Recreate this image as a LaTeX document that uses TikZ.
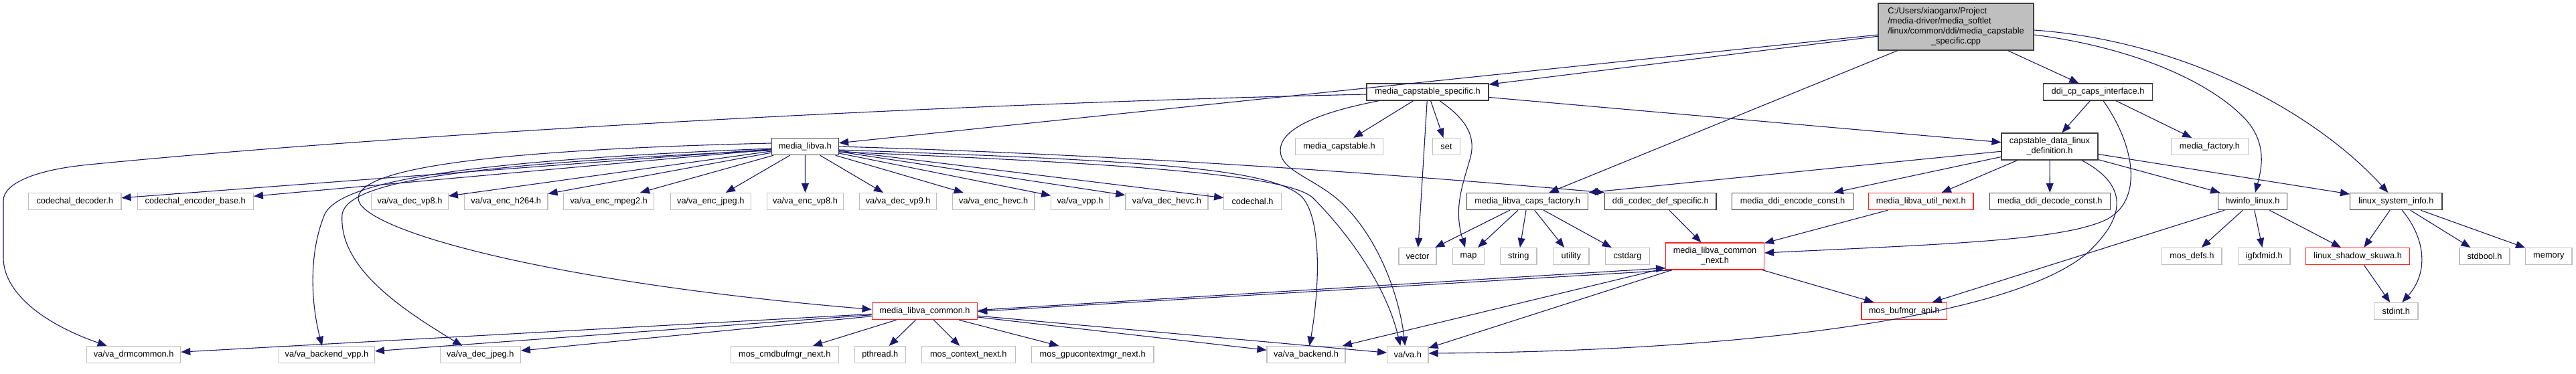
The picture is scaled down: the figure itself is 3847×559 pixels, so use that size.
\documentclass[tikz,border=0pt]{standalone}
\usepackage{fontspec}
\setmainfont{Liberation Sans}
\usetikzlibrary{arrows.meta}
\definecolor{edgec}{RGB}{25,25,112}
\definecolor{gborder}{RGB}{191,191,191}
\definecolor{bborder}{RGB}{64,64,64}
\definecolor{rborder}{RGB}{255,32,32}
\definecolor{rootfill}{RGB}{191,191,191}
\newcommand\dgf{\fontsize{12.8}{15}\selectfont}
\begin{document}
\begin{tikzpicture}[x=1pt,y=-1pt,
  base/.style={draw, rectangle, inner sep=0pt, minimum height=25pt, font=\dgf, text=black, fill=white},
  gn/.style={base, draw=gborder, line width=1.2pt},
  bn/.style={base, draw=bborder, line width=1.4pt},
  rn/.style={base, draw=rborder, line width=1.4pt},
  two/.style={minimum height=40pt, align=center},
  e/.style={-{Triangle[length=14pt,width=11pt]}, draw=edgec, line width=1.1pt},
]
\useasboundingbox[fill=white] (0,0) rectangle (3847,559);
% row 0
\node[bn, fill=rootfill, minimum width=232pt, minimum height=70pt] (root) at (2921,40)
  {\begin{tabular}{@{}l@{}}C:/Users/xiaoganx/Project\\/media-driver/media\_softlet\\/linux/common/ddi/media\_capstable\\\multicolumn{1}{@{}c@{}}{\_specific.cpp}\end{tabular}};
% row 1
\node[bn, minimum width=182pt] (mcs) at (2132,137.5) {media\_capstable\_specific.h};
\node[bn, minimum width=162.6pt] (dcp) at (3133,137.5) {ddi\_cp\_caps\_interface.h};
% row 2
\node[bn, minimum width=100pt] (ml) at (1202.3,219) {media\_libva.h};
\node[gn, minimum width=130.6pt] (mcap) at (2000,219) {media\_capstable.h};
\node[gn, minimum width=40.3pt] (set) at (2160,219) {set};
\node[bn, two, minimum width=143.7pt] (cd) at (3061,219) {capstable\_data\_linux\\\_definition.h};
\node[gn, minimum width=114.3pt] (mf) at (3300,219) {media\_factory.h};
% row 3
\node[gn, minimum width=138.3pt] (cdec) at (111.8,301) {codechal\_decoder.h};
\node[gn, minimum width=173pt] (ceb) at (291.8,301) {codechal\_encoder\_base.h};
\node[gn, minimum width=114.6pt] (vp8d) at (612,301) {va/va\_dec\_vp8.h};
\node[gn, minimum width=124.3pt] (h264) at (755.8,301) {va/va\_enc\_h264.h};
\node[gn, minimum width=135pt] (mpeg2) at (909.2,301) {va/va\_enc\_mpeg2.h};
\node[gn, minimum width=120pt] (jpege) at (1061.3,301) {va/va\_enc\_jpeg.h};
\node[gn, minimum width=114.4pt] (vp8e) at (1202.5,301) {va/va\_enc\_vp8.h};
\node[gn, minimum width=115pt] (vp9d) at (1341.2,301) {va/va\_dec\_vp9.h};
\node[gn, minimum width=122.7pt] (hevce) at (1483.7,301) {va/va\_enc\_hevc.h};
\node[gn, minimum width=86.6pt] (vpp) at (1613,301) {va/va\_vpp.h};
\node[gn, minimum width=123pt] (hevcd) at (1742.5,301) {va/va\_dec\_hevc.h};
\node[gn, minimum width=85.6pt] (codechal) at (1870.5,301) {codechal.h};
\node[bn, minimum width=181pt] (cf) at (2281.2,301) {media\_libva\_caps\_factory.h};
\node[bn, minimum width=166.3pt] (ddi) at (2479.8,301) {ddi\_codec\_def\_specific.h};
\node[bn, minimum width=180.6pt] (mdec) at (2677,301) {media\_ddi\_encode\_const.h};
\node[rn, minimum width=156.3pt] (un) at (2868.8,301) {media\_libva\_util\_next.h};
\node[bn, minimum width=180pt] (mddc) at (3061.3,301) {media\_ddi\_decode\_const.h};
\node[bn, minimum width=102.6pt] (hw) at (3364,301) {hwinfo\_linux.h};
\node[bn, minimum width=137.3pt] (ls) at (3578.3,301) {linux\_system\_info.h};
% row 4
\node[gn, minimum width=56pt] (vec) at (2117,383) {vector};
\node[gn, minimum width=46.6pt] (map) at (2193,383) {map};
\node[gn, minimum width=54.3pt] (str) at (2267.8,383) {string};
\node[gn, minimum width=53.3pt] (util) at (2346.3,383) {utility};
\node[gn, minimum width=65.6pt] (cst) at (2430.5,383) {cstdarg};
\node[rn, two, minimum width=146.6pt] (mlcn) at (2561,383) {media\_libva\_common\\\_next.h};
\node[gn, minimum width=89.3pt] (mdefs) at (3273.3,383) {mos\_defs.h};
\node[gn, minimum width=77.7pt] (igfx) at (3381.2,383) {igfxfmid.h};
\node[rn, minimum width=155pt] (lss) at (3521.2,383) {linux\_shadow\_skuwa.h};
\node[gn, minimum width=75pt] (sb) at (3710.5,383) {stdbool.h};
\node[gn, minimum width=69.3pt] (mem) at (3806.3,383) {memory};
% row 4.5
\node[rn, minimum width=157.4pt] (mlc) at (1381,465) {media\_libva\_common.h};
\node[rn, minimum width=127.7pt] (mbuf) at (2843.8,465) {mos\_bufmgr\_api.h};
\node[gn, minimum width=65.3pt] (sti) at (3578.3,465) {stdint.h};
% row 5
\node[gn, minimum width=140pt] (vd) at (199.7,530) {va/va\_drmcommon.h};
\node[gn, minimum width=142.6pt] (vbv) at (488,530) {va/va\_backend\_vpp.h};
\node[gn, minimum width=120pt] (vdj) at (717.3,530) {va/va\_dec\_jpeg.h};
\node[gn, minimum width=161pt] (mcb) at (1171.8,530) {mos\_cmdbufmgr\_next.h};
\node[gn, minimum width=76pt] (pth) at (1314.3,530) {pthread.h};
\node[gn, minimum width=140pt] (mctx) at (1446.3,530) {mos\_context\_next.h};
\node[gn, minimum width=182.7pt] (mgpu) at (1631.7,530) {mos\_gpucontextmgr\_next.h};
\node[gn, minimum width=117pt] (vb) at (1950.5,530) {va/va\_backend.h};
\node[gn, minimum width=61.3pt] (va) at (2102.3,530) {va/va.h};

% ---- edges ----
% root
\draw[e] (root) -- (mcs);
\draw[e] (root) -- (ml);
\draw[e] (root) -- (cf);
\draw[e] (root) -- (dcp);
\draw[e] ([yshift=-12pt]root.east) .. controls (3180,70) and (3300,120) .. (3355,180) .. controls (3385,215) and (3378,250) .. ([xshift=4pt]hw.north);
\draw[e] ([yshift=-5pt]root.east) .. controls (3250,60) and (3450,160) .. ([xshift=-12pt]ls.north);
% media_capstable_specific.h
\draw[e] ([yshift=-3.5pt]mcs.west) .. controls (1400,155) and (600,200) .. (133,246) .. controls (50,254) and (5,275) .. (5,300) -- (5,385) .. controls (5,435) and (60,482) .. ([xshift=-40pt]vd.north);
\draw[e] (mcs) -- (mcap);
\draw[e] (mcs) -- (set);
\draw[e] (mcs) -- (vec);
\draw[e] ([xshift=18pt]mcs.south) .. controls (2185,175) and (2205,200) .. (2196,235) .. controls (2185,275) and (2170,310) .. ([xshift=-5pt]map.north);
\draw[e] ([xshift=-73pt]mcs.south) .. controls (1960,170) and (1912,195) .. (1912,225) .. controls (1912,255) and (1960,265) .. (2000,300) .. controls (2060,355) and (2090,445) .. ([xshift=-4pt]va.north);
\draw[e] (mcs) -- (cd);
% media_libva.h
\draw[e] (ml) -- (cdec);
\draw[e] (ml) -- (ceb);
\draw[e] (ml) -- (vp8d);
\draw[e] (ml) -- (h264);
\draw[e] (ml) -- (mpeg2);
\draw[e] (ml) -- (jpege);
\draw[e] (ml) -- (vp8e);
\draw[e] (ml) -- (vp9d);
\draw[e] (ml) -- (hevce);
\draw[e] (ml) -- (vpp);
\draw[e] (ml) -- (hevcd);
\draw[e] (ml) -- (codechal);
\draw[e] (ml.east) .. controls (1700,232) and (2100,262) .. (ddi.north west);
\draw[e] ([yshift=5pt]ml.west) .. controls (700,225) and (540,255) .. (535,295) .. controls (530,340) and (800,420) .. ([yshift=2.5pt]mlc.west);
\draw[e] ([yshift=-3pt]ml.west) .. controls (700,240) and (510,270) .. (485,320) .. controls (460,380) and (465,455) .. ([xshift=-7pt]vbv.north);
\draw[e] ([yshift=-6pt]ml.west) .. controls (700,245) and (520,270) .. (511,320) .. controls (505,400) and (600,462) .. ([xshift=-27pt]vdj.north);
\draw[e] ([yshift=-5pt]ml.east) .. controls (1700,240) and (1900,250) .. (1945,295) .. controls (1975,330) and (1970,435) .. ([xshift=5pt]vb.north);
\draw[e] ([yshift=-8pt]ml.east) .. controls (1700,245) and (1920,262) .. (1960,295) .. controls (2010,345) and (2070,425) .. ([xshift=-11pt]va.north);
% media_libva_common.h
\draw[e] (mlc) -- (mcb);
\draw[e] (mlc) -- (pth);
\draw[e] (mlc) -- (mctx);
\draw[e] (mlc) -- (mgpu);
\draw[e] (mlc) -- (vb);
\draw[e] (mlc) -- (va);
\draw[e] (mlc) -- (vd);
\draw[e] (mlc) -- (vbv);
\draw[e] (mlc) -- (vdj);
\draw[e] ([yshift=1.5pt]mlc.east) -- ([yshift=3pt]mlcn.south west);
\draw[e] ([xshift=10pt]mlcn.south west) -- ([yshift=-0.5pt]mlc.east);
% media_libva_common_next.h
\draw[e] (mlcn) -- (mbuf);
\draw[e] (mlcn) -- (vb);
\draw[e] (mlcn) -- (va);
\draw[e] (ddi) -- (mlcn);
\draw[e] (un) -- (mlcn);
% ddi_cp_caps_interface.h
\draw[e] (dcp) -- (cd);
\draw[e] (dcp) -- (mf);
\draw[e] ([xshift=8pt]dcp.south) .. controls (3190,220) and (3200,300) .. (3146,328) .. controls (3080,360) and (2900,365) .. ([yshift=5pt]mlcn.east);
% capstable_data_linux_definition.h
\draw[e] (cd) -- (cf.north east);
\draw[e] (cd) -- (mdec);
\draw[e] (cd) -- (un);
\draw[e] (cd) -- (mddc);
\draw[e] (cd) -- (hw);
\draw[e] (cd) -- (ls);
\draw[e] ([xshift=48pt]cd.south) .. controls (3185,280) and (3170,330) .. (3115,380) .. controls (3000,475) and (2600,525) .. ([yshift=2pt]va.east);
% hwinfo_linux.h
\draw[e] (hw) -- (mdefs);
\draw[e] (hw) -- (igfx);
\draw[e] (hw) -- (lss);
\draw[e] (hw) -- (mbuf);
% linux_system_info.h
\draw[e] (ls) -- (lss);
\draw[e] (ls) -- (sb);
\draw[e] (ls) -- (mem);
\draw[e] ([xshift=9pt]ls.south) .. controls (3625,360) and (3625,410) .. ([xshift=9pt]sti.north);
\draw[e] (lss) -- (sti);
% media_libva_caps_factory.h
\draw[e] (cf) -- (vec);
\draw[e] (cf) -- (map);
\draw[e] (cf) -- (str);
\draw[e] (cf) -- (util);
\draw[e] (cf) -- (cst);
\end{tikzpicture}
\end{document}
